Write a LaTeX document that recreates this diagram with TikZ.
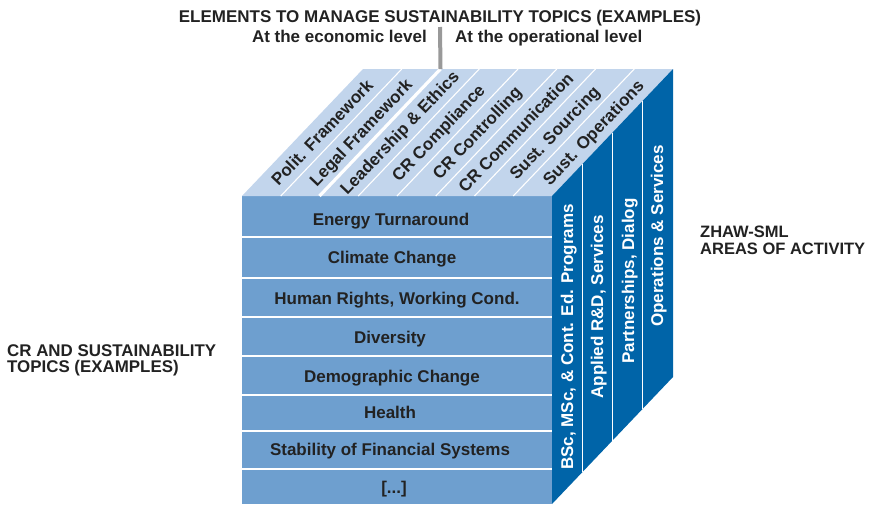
\documentclass[tikz,border=0pt]{standalone}
\usepackage{fontspec}
\setmainfont{Liberation Sans}
\usetikzlibrary{calc}
\definecolor{ink}{HTML}{222222}
\definecolor{frontblue}{HTML}{6E9FCF}
\definecolor{topblue}{HTML}{C2D5EC}
\definecolor{sideblue}{HTML}{0064A8}
\definecolor{bargrey}{HTML}{999999}
\begin{document}
\begin{tikzpicture}[x=1pt,y=-1pt,
  lbl/.style={font=\bfseries\fontsize{17}{17}\selectfont, text=ink, inner sep=0pt},
  caplbl/.style={lbl, text height=12.2pt, text depth=0pt},
  toplbl/.style={caplbl, rotate=46.38},
  sidelbl/.style={caplbl, text=white, rotate=90},
  rowlbl/.style={caplbl},
  sep/.style={draw=white, line width=1.1pt},
  thicksep/.style={draw=white, line width=3.2pt},
  bar/.style={draw=bargrey, line width=4pt}
]
\useasboundingbox (0,0) rectangle (870,504);

% cube corners
\coordinate (ftl) at (242,196);
\coordinate (ftr) at (552,196);
\coordinate (fbl) at (242,504);
\coordinate (fbr) at (552,504);
\coordinate (btl) at (363,69);
\coordinate (btr) at (673,69);
\coordinate (bbr) at (673,377);

% faces
\fill[frontblue] (ftl) -- (ftr) -- (fbr) -- (fbl) -- cycle;
\fill[topblue] (ftl) -- (ftr) -- (btr) -- (btl) -- cycle;
\fill[sideblue] (ftr) -- (btr) -- (bbr) -- (fbr) -- cycle;

% top face strips
\foreach \i in {1,3,4,5,6,7}
  \path[sep] ($(ftl)+(38.75*\i,0)$) -- ($(btl)+(38.75*\i,0)$);
\coordinate (splitFront) at ($(ftl)+(77.5,0)$);
\coordinate (splitBack) at ($(btl)+(77.5,0)$);
\path[thicksep] (splitFront) -- (splitBack);

% side face columns
\foreach \j in {1,2,3}
  \path[sep] ($(ftr)+(30.25*\j,-31.75*\j)$) -- ($(fbr)+(30.25*\j,-31.75*\j)$);

% front face rows
\foreach \y in {237,278,317,356,395,431,469}
  \path[sep] (242,\y) -- (552,\y);

% top face labels
\foreach \t [count=\i] in {Polit. Framework,Legal Framework,Leadership \& Ethics,CR Compliance,CR Controlling,CR Communication,Sust. Sourcing,Sust. Operations}
  \node[toplbl] (top\i) at ($(ftl)+(38.75*\i-19.375+60.5,-63.5)$) {\t};

% side face labels
\node[sidelbl] (side1) at (567,337) {BSc, MSc, \& Cont. Ed. Programs};
\node[sidelbl] (side2) at (597,307) {Applied R\&D, Services};
\node[sidelbl] (side3) at (628,281) {Partnerships, Dialog};
\node[sidelbl] (side4) at (657,236) {Operations \& Services};

% front face labels
\node[rowlbl] (row1) at (391,219) {Energy Turnaround};
\node[rowlbl] (row2) at (392,257) {Climate Change};
\node[rowlbl] (row3) at (397,298) {Human Rights, Working Cond.};
\node[rowlbl] (row4) at (390,337) {Diversity};
\node[rowlbl] (row5) at (392,376) {Demographic Change};
\node[rowlbl] (row6) at (390,412) {Health};
\node[rowlbl] (row7) at (390,449) {Stability of Financial Systems};
\node[rowlbl] (row8) at (394,487) {[...]};

% headings
\node[lbl, anchor=base] (title) at (440,22) {ELEMENTS TO MANAGE SUSTAINABILITY TOPICS (EXAMPLES)};
\node[lbl, anchor=base east] (econ) at (427,42) {At the economic level};
\node[lbl, anchor=base west] (oper) at (455,42) {At the operational level};
\coordinate (barTop) at (440,27);
\path[bar] (barTop) -- (splitBack);

\node[lbl, anchor=north west, align=left, font=\bfseries\fontsize{16.9}{16.5}\selectfont] (topics) at (7,344) {CR AND SUSTAINABILITY\\TOPICS (EXAMPLES)};
\node[lbl, anchor=north west, align=left, font=\bfseries\fontsize{16.5}{16.5}\selectfont] (areas) at (700,226) {ZHAW-SML\\AREAS OF ACTIVITY};
\end{tikzpicture}
\end{document}
